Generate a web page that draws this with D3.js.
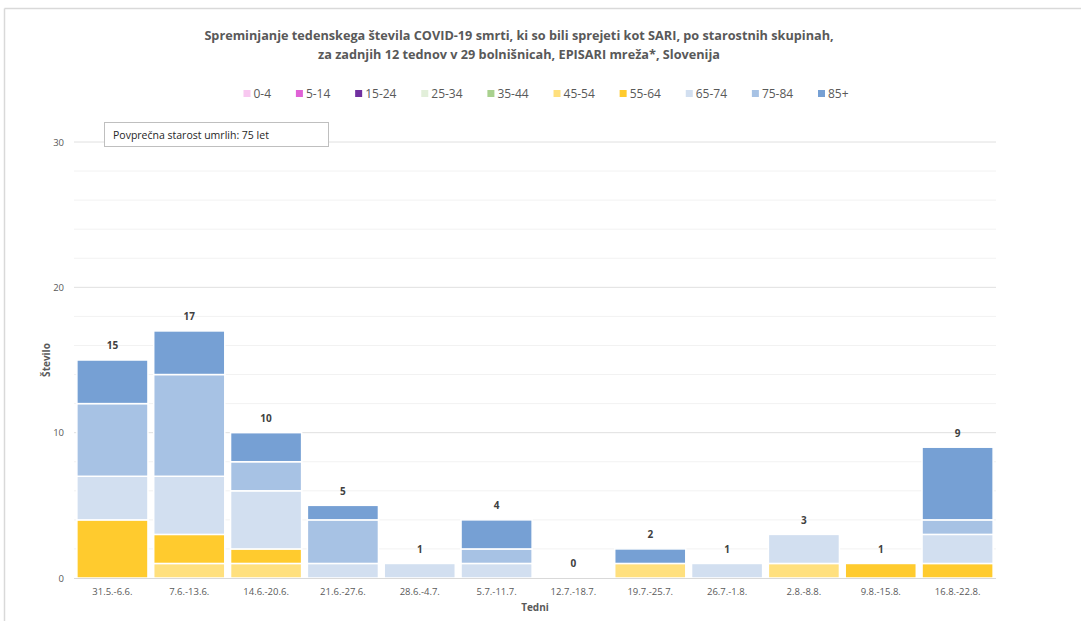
<!DOCTYPE html>
<html>
<head>
<meta charset="utf-8">
<script src="https://cdn.jsdelivr.net/npm/d3@7"></script>
<style>
  html, body { margin: 0; padding: 0; background: #fff; }
  svg { display: block; font-family: "Open Sans", "Liberation Sans", sans-serif; }
</style>
</head>
<body>
<svg id="chart" width="1081" height="621"></svg>
<script>
// ---- Data ----
const weeks = ["31.5.-6.6.", "7.6.-13.6.", "14.6.-20.6.", "21.6.-27.6.", "28.6.-4.7.", "5.7.-11.7.",
               "12.7.-18.7.", "19.7.-25.7.", "26.7.-1.8.", "2.8.-8.8.", "9.8.-15.8.", "16.8.-22.8."];
const ageGroups = ["0-4", "5-14", "15-24", "25-34", "35-44", "45-54", "55-64", "65-74", "75-84", "85+"];
const age0_4   = [0, 0, 0, 0, 0, 0, 0, 0, 0, 0, 0, 0];
const age5_14  = [0, 0, 0, 0, 0, 0, 0, 0, 0, 0, 0, 0];
const age15_24 = [0, 0, 0, 0, 0, 0, 0, 0, 0, 0, 0, 0];
const age25_34 = [0, 0, 0, 0, 0, 0, 0, 0, 0, 0, 0, 0];
const age35_44 = [0, 0, 0, 0, 0, 0, 0, 0, 0, 0, 0, 0];
const age45_54 = [0, 1, 1, 0, 0, 0, 0, 1, 0, 1, 0, 0];
const age55_64 = [4, 2, 1, 0, 0, 0, 0, 0, 0, 0, 1, 1];
const age65_74 = [3, 4, 4, 1, 1, 1, 0, 0, 1, 2, 0, 2];
const age75_84 = [5, 7, 2, 3, 0, 1, 0, 0, 0, 0, 0, 1];
const age85p   = [3, 3, 2, 1, 0, 2, 0, 1, 0, 0, 0, 5];
const yTicks = [0, 10, 20, 30];
const yMinorTicks = [2, 4, 6, 8, 12, 14, 16, 18, 22, 24, 26, 28];
const colors = ["#f8c8f0", "#e062d6", "#7030a0", "#e2efda", "#a9d18e", "#ffe07e", "#ffcb2e", "#d2dff0", "#a7c2e4", "#76a0d4"];
const titleLines = ["Spreminjanje tedenskega števila COVID-19 smrti, ki so bili sprejeti kot SARI, po starostnih skupinah,",
                    "za zadnjih 12 tednov v 29 bolnišnicah, EPISARI mreža*, Slovenija"];
const noteText = "Povprečna starost umrlih: 75 let";

const series = [age0_4, age5_14, age15_24, age25_34, age35_44, age45_54, age55_64, age65_74, age75_84, age85p];

// ---- Build table ----
const table = weeks.map((w, i) => {
  const row = { week: w };
  ageGroups.forEach((g, k) => { row[g] = series[k][i]; });
  row.total = series.reduce((s, arr) => s + arr[i], 0);
  return row;
});

const svg = d3.select("#chart");
const W = 1081, H = 621;
const margin = { left: 74, right: 85, top: 142, bottom: 43 };
const plotW = W - margin.left - margin.right;
const plotH = H - margin.top - margin.bottom;

// chart border (top and left)
svg.append("line").attr("x1", 4.5).attr("x2", W).attr("y1", 8.5).attr("y2", 8.5).attr("stroke", "#d9d9d9").attr("stroke-width", 1.5);
svg.append("line").attr("x1", 4.5).attr("x2", 4.5).attr("y1", 8.5).attr("y2", H).attr("stroke", "#d9d9d9").attr("stroke-width", 1.5);

// title
svg.append("g").selectAll("text").data(titleLines).join("text")
  .attr("x", 519).attr("y", (d, i) => 39.5 + i * 19.5)
  .attr("text-anchor", "middle")
  .attr("font-size", 12.7).attr("font-weight", 700).attr("fill", "#595959")
  .text(d => d);

const g = svg.append("g").attr("transform", `translate(${margin.left},${margin.top})`);

const x = d3.scaleBand().domain(weeks).range([0, plotW]).paddingInner(0.075).paddingOuter(0.0375);
const y = d3.scaleLinear().domain([0, 30]).range([plotH, 0]);

// gridlines
g.append("g").selectAll("line").data(yMinorTicks).join("line")
  .attr("x1", 0).attr("x2", plotW).attr("y1", d => y(d)).attr("y2", d => y(d))
  .attr("stroke", "#f2f2f2").attr("stroke-width", 1);
g.append("g").selectAll("line").data(yTicks.filter(d => d > 0)).join("line")
  .attr("x1", 0).attr("x2", plotW).attr("y1", d => y(d)).attr("y2", d => y(d))
  .attr("stroke", "#e0e0e0").attr("stroke-width", 1);

// y axis
const yAxis = g.append("g").call(d3.axisLeft(y).tickValues(yTicks).tickSize(0).tickPadding(10));
yAxis.select(".domain").remove();
yAxis.selectAll("text").attr("font-size", 9.5).attr("fill", "#595959").attr("font-family", "Open Sans, sans-serif");

// stacked bars
const stack = d3.stack().keys(ageGroups);
const stacked = stack(table);
g.append("g").selectAll("g").data(stacked).join("g")
  .attr("fill", (d, i) => colors[i])
  .selectAll("rect").data(d => d.filter(v => v[1] - v[0] > 0)).join("rect")
  .attr("x", d => x(d.data.week))
  .attr("width", x.bandwidth())
  .attr("y", d => y(d[1]))
  .attr("height", d => y(d[0]) - y(d[1]))
  .attr("stroke", "#ffffff").attr("stroke-width", 1.5);

// x axis line
g.append("line").attr("x1", 0).attr("x2", plotW).attr("y1", plotH + 0.5).attr("y2", plotH + 0.5)
  .attr("stroke", "#d9d9d9").attr("stroke-width", 1);

const xAxis = g.append("g").attr("transform", `translate(0,${plotH})`).call(d3.axisBottom(x).tickSize(0).tickPadding(10));
xAxis.select(".domain").remove();
xAxis.selectAll("text").attr("font-size", 9.5).attr("fill", "#595959").attr("font-family", "Open Sans, sans-serif");

// totals labels
g.append("g").selectAll("text").data(table).join("text")
  .attr("x", d => x(d.week) + x.bandwidth() / 2)
  .attr("y", d => y(d.total + 1) + 4)
  .attr("text-anchor", "middle")
  .attr("font-size", 10).attr("font-weight", 700).attr("fill", "#404040")
  .text(d => d.total);

// axis titles
svg.append("text").attr("x", 535).attr("y", 611).attr("text-anchor", "middle")
  .attr("font-size", 10).attr("font-weight", 700).attr("fill", "#595959").text("Tedni");
svg.append("text").attr("transform", `translate(50,${margin.top + plotH / 2}) rotate(-90)`)
  .attr("text-anchor", "middle")
  .attr("font-size", 10).attr("font-weight", 700).attr("fill", "#595959").text("Število");

// legend
const legend = svg.append("g");
const items = legend.selectAll("g").data(ageGroups).join("g");
items.append("rect").attr("width", 7).attr("height", 7).attr("y", -7.5).attr("fill", (d, i) => colors[i]);
items.append("text").attr("x", 10).attr("y", 0).attr("font-size", 12).attr("fill", "#595959").text(d => d);
const widths = [];
items.each(function () {
  widths.push(10 + d3.select(this).select("text").node().getComputedTextLength());
});
const legStart = 243.5, legLast = 818;
const gap = (legLast - legStart - d3.sum(widths.slice(0, -1))) / (widths.length - 1);
const pos = [];
let cx = legStart;
widths.forEach(w => { pos.push(cx); cx += w + gap; });
items.attr("transform", (d, i) => `translate(${pos[i]},97.5)`);

// note box
const note = svg.append("g");
note.append("rect").attr("x", 104.5).attr("y", 122.5).attr("width", 224).attr("height", 24)
  .attr("fill", "#fff").attr("stroke", "#bfbfbf").attr("stroke-width", 1);
note.append("text").attr("x", 113).attr("y", 139).attr("font-size", 10.5).attr("fill", "#262626").text(noteText);
</script>
</body>
</html>
